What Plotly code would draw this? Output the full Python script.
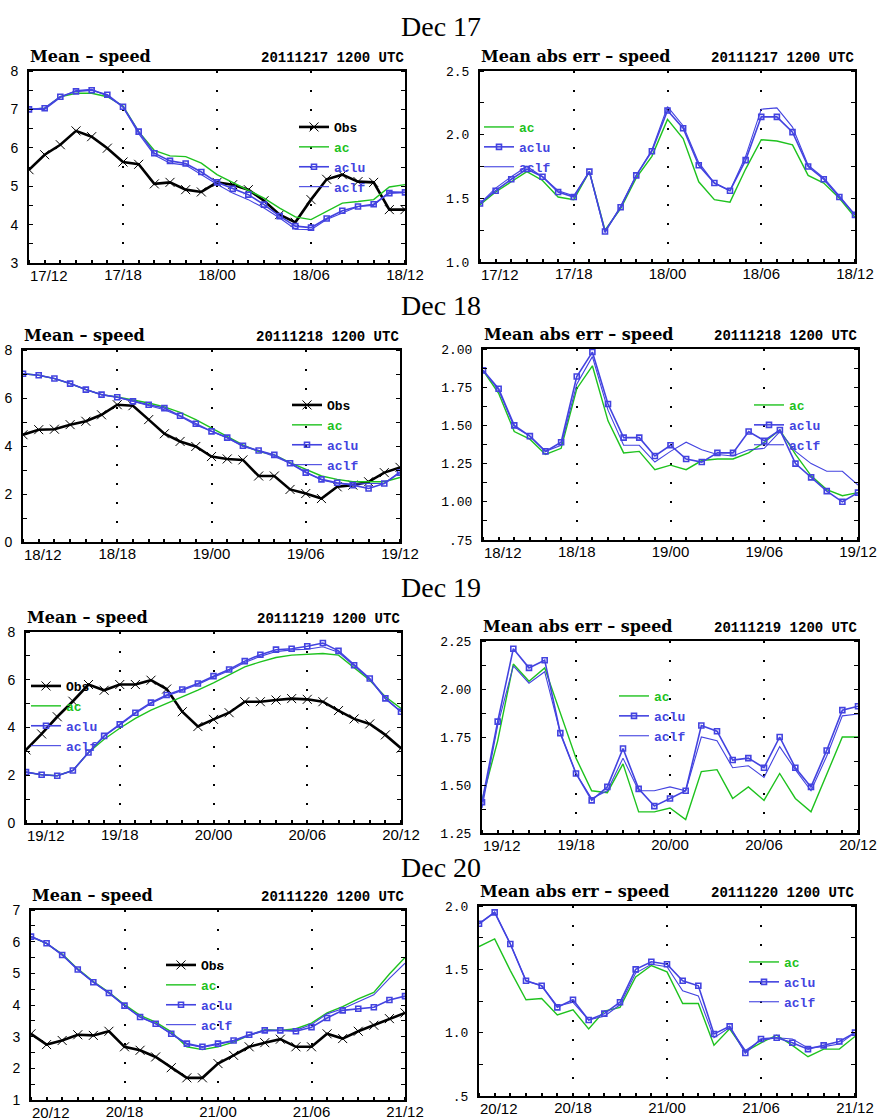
import plotly.graph_objects as go

W, H = 884, 1120

hours = list(range(25))

day_titles = ["Dec 17", "Dec 18", "Dec 19", "Dec 20"]
run_stamps = ["20111217 1200 UTC", "20111218 1200 UTC", "20111219 1200 UTC", "20111220 1200 UTC"]

ticks_17 = ["17/12", "17/18", "18/00", "18/06", "18/12"]
ticks_18 = ["18/12", "18/18", "19/00", "19/06", "19/12"]
ticks_19 = ["19/12", "19/18", "20/00", "20/06", "20/12"]
ticks_20 = ["20/12", "20/18", "21/00", "21/06", "21/12"]

# ---- Dec 17 ----
mean_obs_17 = [5.43, 5.82, 6.08, 6.44, 6.29, 5.99, 5.63, 5.57, 5.06, 5.10, 4.91, 4.85, 5.10,
               5.04, 4.91, 4.62, 4.26, 4.06, 4.65, 5.18, 5.30, 5.12, 5.10, 4.39, 4.39]
mean_ac_17 = [7.00, 7.03, 7.33, 7.42, 7.42, 7.33, 7.09, 6.42, 5.93, 5.79, 5.77, 5.60, 5.30,
              5.10, 4.91, 4.69, 4.43, 4.20, 4.13, 4.34, 4.56, 4.60, 4.65, 4.98, 5.04]
mean_aclu_17 = [7.00, 7.03, 7.33, 7.47, 7.50, 7.38, 7.07, 6.42, 5.86, 5.66, 5.59, 5.37, 5.10,
                4.93, 4.78, 4.52, 4.22, 3.96, 3.92, 4.16, 4.36, 4.47, 4.53, 4.82, 4.84]
mean_aclf_17 = [7.00, 7.00, 7.31, 7.49, 7.52, 7.35, 7.06, 6.37, 5.81, 5.60, 5.55, 5.29, 5.05,
                4.82, 4.65, 4.43, 4.17, 3.88, 3.87, 4.13, 4.30, 4.47, 4.50, 4.86, 4.84]
mae_ac_17 = [1.45, 1.55, 1.63, 1.71, 1.64, 1.51, 1.49, 1.71, 1.25, 1.42, 1.66, 1.83, 2.12,
             1.97, 1.63, 1.49, 1.47, 1.73, 1.96, 1.95, 1.92, 1.68, 1.62, 1.50, 1.35]
mae_aclu_17 = [1.46, 1.56, 1.65, 1.73, 1.67, 1.55, 1.51, 1.71, 1.24, 1.43, 1.68, 1.87, 2.19,
               2.05, 1.76, 1.62, 1.56, 1.80, 2.14, 2.14, 2.02, 1.75, 1.65, 1.51, 1.37]
mae_aclf_17 = [1.46, 1.58, 1.67, 1.75, 1.67, 1.56, 1.52, 1.71, 1.23, 1.44, 1.68, 1.88, 2.22,
               2.07, 1.78, 1.62, 1.56, 1.83, 2.20, 2.21, 2.06, 1.76, 1.66, 1.52, 1.37]

# ---- Dec 18 ----
mean_obs_18 = [4.47, 4.68, 4.70, 4.89, 5.03, 5.30, 5.72, 5.68, 5.10, 4.51, 4.19, 3.98, 3.56,
               3.46, 3.42, 2.75, 2.75, 2.19, 2.02, 1.81, 2.30, 2.37, 2.51, 2.89, 3.11]
mean_ac_18 = [7.01, 6.95, 6.81, 6.60, 6.35, 6.14, 6.04, 5.93, 5.79, 5.63, 5.40, 5.10, 4.75,
              4.42, 4.05, 3.77, 3.63, 3.31, 3.03, 2.75, 2.61, 2.51, 2.51, 2.51, 2.69]
mean_aclu_18 = [7.01, 6.95, 6.81, 6.60, 6.35, 6.14, 6.03, 5.86, 5.72, 5.58, 5.26, 4.93, 4.61,
                4.35, 4.01, 3.81, 3.63, 3.28, 2.89, 2.61, 2.47, 2.37, 2.23, 2.44, 2.89]
mean_aclf_18 = [7.01, 6.95, 6.81, 6.60, 6.35, 6.14, 6.03, 5.85, 5.70, 5.51, 5.24, 4.88, 4.61,
                4.33, 3.98, 3.80, 3.56, 3.28, 2.93, 2.58, 2.44, 2.41, 2.44, 2.44, 2.93]
mae_ac_18 = [1.86, 1.71, 1.46, 1.41, 1.31, 1.35, 1.74, 1.89, 1.53, 1.32, 1.33, 1.21, 1.24,
             1.21, 1.27, 1.28, 1.28, 1.32, 1.39, 1.47, 1.31, 1.17, 1.08, 1.04, 1.06]
mae_aclu_18 = [1.86, 1.74, 1.50, 1.43, 1.33, 1.39, 1.82, 1.98, 1.64, 1.42, 1.42, 1.30, 1.37,
               1.28, 1.26, 1.32, 1.32, 1.46, 1.40, 1.47, 1.25, 1.16, 1.07, 1.00, 1.06]
mae_aclf_18 = [1.86, 1.73, 1.49, 1.43, 1.33, 1.37, 1.77, 1.95, 1.60, 1.37, 1.37, 1.26, 1.33,
               1.39, 1.34, 1.31, 1.30, 1.34, 1.35, 1.46, 1.33, 1.25, 1.20, 1.20, 1.11]

# ---- Dec 19 ----
mean_obs_19 = [3.06, 3.73, 4.45, 5.10, 5.80, 5.56, 5.80, 5.80, 5.98, 5.61, 4.66, 4.04, 4.34,
               4.62, 5.08, 5.08, 5.15, 5.21, 5.18, 5.08, 4.71, 4.36, 4.15, 3.69, 3.13]
mean_ac_19 = [2.13, 2.02, 1.98, 2.20, 2.95, 3.51, 3.97, 4.38, 4.73, 5.01, 5.26, 5.57, 5.87,
              6.19, 6.54, 6.75, 6.93, 7.03, 7.07, 7.10, 7.03, 6.51, 5.98, 5.29, 4.80]
mean_aclu_19 = [2.13, 2.02, 1.98, 2.20, 2.95, 3.65, 4.13, 4.62, 5.04, 5.36, 5.59, 5.84, 6.15,
                6.43, 6.78, 7.05, 7.26, 7.30, 7.40, 7.54, 7.21, 6.61, 6.05, 5.22, 4.66]
mean_aclf_19 = [2.13, 2.02, 1.98, 2.20, 2.95, 3.63, 4.10, 4.58, 5.00, 5.32, 5.55, 5.80, 6.10,
                6.38, 6.72, 6.98, 7.18, 7.25, 7.28, 7.38, 7.15, 6.58, 6.02, 5.20, 4.66]
mae_ac_19 = [1.42, 1.73, 2.13, 2.04, 2.11, 1.87, 1.64, 1.47, 1.46, 1.61, 1.36, 1.36, 1.38,
             1.32, 1.57, 1.58, 1.43, 1.49, 1.42, 1.56, 1.43, 1.36, 1.56, 1.75, 1.75]
mae_aclu_19 = [1.41, 1.83, 2.21, 2.11, 2.15, 1.77, 1.56, 1.42, 1.49, 1.69, 1.48, 1.39, 1.43,
               1.47, 1.81, 1.78, 1.63, 1.64, 1.59, 1.75, 1.59, 1.49, 1.68, 1.89, 1.91]
mae_aclf_19 = [1.38, 1.81, 2.12, 2.03, 2.09, 1.77, 1.56, 1.43, 1.47, 1.64, 1.47, 1.47, 1.49,
               1.47, 1.75, 1.73, 1.59, 1.60, 1.54, 1.70, 1.58, 1.47, 1.65, 1.86, 1.87]

# ---- Dec 20 ----
mean_obs_20 = [3.09, 2.75, 2.88, 3.06, 3.04, 3.17, 2.68, 2.57, 2.36, 2.02, 1.70, 1.70, 2.15,
               2.41, 2.68, 2.81, 2.92, 2.68, 2.68, 3.09, 2.94, 3.17, 3.36, 3.57, 3.75]
mean_ac_20 = [6.16, 5.94, 5.61, 5.14, 4.74, 4.40, 4.01, 3.67, 3.46, 3.15, 2.68, 2.59, 2.68,
              2.83, 3.04, 3.22, 3.20, 3.25, 3.43, 3.75, 3.95, 4.19, 4.40, 4.98, 5.50]
mean_aclu_20 = [6.16, 5.95, 5.58, 5.12, 4.72, 4.38, 3.98, 3.62, 3.41, 3.09, 2.78, 2.68, 2.78,
                2.88, 3.06, 3.20, 3.20, 3.17, 3.30, 3.59, 3.83, 3.88, 3.93, 4.16, 4.28]
mean_aclf_20 = [6.16, 5.95, 5.58, 5.12, 4.72, 4.38, 3.98, 3.62, 3.41, 3.09, 2.76, 2.66, 2.76,
                2.86, 3.04, 3.18, 3.20, 3.20, 3.38, 3.72, 3.88, 4.09, 4.32, 4.84, 5.32]
mae_ac_20 = [1.68, 1.74, 1.49, 1.26, 1.27, 1.14, 1.18, 1.03, 1.17, 1.20, 1.44, 1.53, 1.48,
             1.23, 1.23, 0.90, 1.03, 0.85, 0.92, 0.98, 0.90, 0.81, 0.87, 0.87, 0.97]
mae_aclu_20 = [1.86, 1.95, 1.70, 1.41, 1.37, 1.20, 1.26, 1.10, 1.15, 1.24, 1.50, 1.56, 1.54,
               1.41, 1.37, 0.99, 1.05, 0.84, 0.95, 0.96, 0.92, 0.87, 0.90, 0.93, 1.00]
mae_aclf_20 = [1.86, 1.95, 1.70, 1.41, 1.37, 1.21, 1.24, 1.10, 1.13, 1.22, 1.47, 1.54, 1.52,
               1.33, 1.29, 0.96, 1.04, 0.86, 0.94, 0.96, 0.95, 0.88, 0.89, 0.91, 1.00]

# y-axis tick values / labels of each panel
mean_ticks_a = [3, 4, 5, 6, 7, 8]
mean_ticks_b = [0, 2, 4, 6, 8]
mean_ticks_c = [1, 2, 3, 4, 5, 6, 7]
mae_ticks_17 = [1.0, 1.5, 2.0, 2.5]
mae_labels_17 = ["1.0", "1.5", "2.0", "2.5"]
mae_ticks_18 = [0.75, 1.0, 1.25, 1.5, 1.75, 2.0]
mae_labels_18 = [".75", "1.00", "1.25", "1.50", "1.75", "2.00"]
mae_ticks_19 = [1.25, 1.5, 1.75, 2.0, 2.25]
mae_labels_19 = ["1.25", "1.50", "1.75", "2.00", "2.25"]
mae_ticks_20 = [0.5, 1.0, 1.5, 2.0]
mae_labels_20 = [".5", "1.0", "1.5", "2.0"]

# ---------------------------------------------------------------- styling
BLACK = "#000000"
GREEN = "#1ec21e"
BLUE = "#4343e0"

MONO = "Liberation Mono"
SANS = "Liberation Sans"
SERIF = "Liberation Serif"
XTICK_FONT = dict(family=SANS, size=15, color=BLACK)
X_TICKVALS = [0, 6, 12, 18, 24]


def px_x(v):
    return v / W


def px_y(v):
    return 1 - v / H


# panel frames in pixels: (left, top, right, bottom)
panels = [
    dict(box=(29, 71, 405, 263), kind="mean", ticks=ticks_17, yr=[3, 8], yt=mean_ticks_a,
         yl=[str(v) for v in mean_ticks_a], minor=0.5, leg=(294, 112), day=0),
    dict(box=(480, 71, 855, 262), kind="mae", ticks=ticks_17, yr=[1.0, 2.5], yt=mae_ticks_17,
         yl=mae_labels_17, minor=0.25, leg=(479, 112), day=0),
    dict(box=(23, 350, 400, 542), kind="mean", ticks=ticks_18, yr=[0, 8], yt=mean_ticks_b,
         yl=[str(v) for v in mean_ticks_b], minor=1, leg=(287, 390), day=1),
    dict(box=(483, 349, 858, 540), kind="mae", ticks=ticks_18, yr=[0.75, 2.0], yt=mae_ticks_18,
         yl=mae_labels_18, minor=0.125, leg=(749, 390), day=1),
    dict(box=(26, 632, 401, 823), kind="mean", ticks=ticks_19, yr=[0, 8], yt=mean_ticks_b,
         yl=[str(v) for v in mean_ticks_b], minor=1, leg=(26, 671), day=2),
    dict(box=(482, 641, 858, 833), kind="mae", ticks=ticks_19, yr=[1.25, 2.25], yt=mae_ticks_19,
         yl=mae_labels_19, minor=0.125, leg=(614, 681), day=2),
    dict(box=(31, 910, 405, 1100), kind="mean", ticks=ticks_20, yr=[1, 7], yt=mean_ticks_c,
         yl=[str(v) for v in mean_ticks_c], minor=0.5, leg=(161, 950), day=3),
    dict(box=(479, 906, 855, 1096), kind="mae", ticks=ticks_20, yr=[0.5, 2.0], yt=mae_ticks_20,
         yl=mae_labels_20, minor=0.25, leg=(744, 947), day=3),
]

series = [
    (mean_obs_17, mean_ac_17, mean_aclu_17, mean_aclf_17),
    (None, mae_ac_17, mae_aclu_17, mae_aclf_17),
    (mean_obs_18, mean_ac_18, mean_aclu_18, mean_aclf_18),
    (None, mae_ac_18, mae_aclu_18, mae_aclf_18),
    (mean_obs_19, mean_ac_19, mean_aclu_19, mean_aclf_19),
    (None, mae_ac_19, mae_aclu_19, mae_aclf_19),
    (mean_obs_20, mean_ac_20, mean_aclu_20, mean_aclf_20),
    (None, mae_ac_20, mae_aclu_20, mae_aclf_20),
]


def label(text, color):
    return f'<b><span style="color:{color}">{text}</span></b>'


fig = go.Figure()
layout = dict(
    width=W, height=H,
    margin=dict(l=0, r=0, t=0, b=0, autoexpand=False),
    paper_bgcolor="white", plot_bgcolor="white",
    showlegend=True,
    annotations=[],
)

for i, (p, (obs, ac, aclu, aclf)) in enumerate(zip(panels, series)):
    n = i + 1
    xname = "x" if n == 1 else f"x{n}"
    yname = "y" if n == 1 else f"y{n}"
    xkey = "xaxis" if n == 1 else f"xaxis{n}"
    ykey = "yaxis" if n == 1 else f"yaxis{n}"
    lkey = "legend" if n == 1 else f"legend{n}"
    left, top, right, bottom = p["box"]

    # the first time label is set flush with the frame corner (drawn below as an
    # annotation), so the axis itself labels only the remaining ticks
    layout[xkey] = dict(
        domain=[px_x(left), px_x(right)], anchor=yname, range=[0, 24],
        tickmode="array", tickvals=X_TICKVALS, ticktext=[""] + p["ticks"][1:],
        ticks="", showline=True, linecolor=BLACK, linewidth=2, mirror=True,
        showgrid=True, gridcolor=BLACK, gridwidth=2, griddash="2px,17px",
        zeroline=False, fixedrange=True, automargin=False,
        tickfont=XTICK_FONT, ticklabelstandoff=-3,
        minor=dict(ticks="inside", tick0=0, dtick=1, ticklen=3, tickwidth=2,
                   tickcolor=BLACK, showgrid=False),
    )
    layout["annotations"].append(dict(
        text=p["ticks"][0], xref=xname, yref="paper",
        x=X_TICKVALS[0], y=px_y(bottom + 3), xanchor="left", yanchor="top",
        showarrow=False, font=XTICK_FONT, borderpad=0,
    ))

    if p["kind"] == "mean":
        yfont = dict(family=SANS, size=14, color=BLACK)
    else:
        yfont = dict(family=MONO, size=13, color=BLACK)
    layout[ykey] = dict(
        domain=[px_y(bottom), px_y(top)], anchor=xname, range=p["yr"],
        tickmode="array", tickvals=p["yt"], ticktext=p["yl"],
        ticks="", showline=True, linecolor=BLACK, linewidth=2, mirror="ticks",
        showgrid=False, zeroline=False, fixedrange=True, automargin=False,
        tickfont=yfont, ticklabelstandoff=6,
        minor=dict(ticks="inside", tick0=p["yr"][0], dtick=p["minor"], ticklen=4,
                   tickwidth=1, tickcolor=BLACK, showgrid=False),
    )
    lx, ly = p["leg"]
    layout[lkey] = dict(
        x=px_x(lx), y=px_y(ly), xanchor="left", yanchor="top",
        bgcolor="rgba(0,0,0,0)", borderwidth=0, itemwidth=30, tracegroupgap=0,
        font=dict(family=MONO, size=13, color=BLACK),
    )

    if obs is not None:
        fig.add_trace(go.Scatter(
            x=hours, y=obs, mode="lines+markers", name=label("Obs", BLACK),
            line=dict(color=BLACK, width=2.6),
            marker=dict(symbol="x-thin", size=9, line=dict(color=BLACK, width=1)),
            xaxis=xname, yaxis=yname, legend=lkey,
        ))
    fig.add_trace(go.Scatter(
        x=hours, y=ac, mode="lines", name=label("ac", GREEN),
        line=dict(color=GREEN, width=1.4),
        xaxis=xname, yaxis=yname, legend=lkey,
    ))
    fig.add_trace(go.Scatter(
        x=hours, y=aclu, mode="lines+markers", name=label("aclu", BLUE),
        line=dict(color=BLUE, width=1.6),
        marker=dict(symbol="square-open", size=5, color=BLUE, line=dict(color=BLUE, width=1.6)),
        xaxis=xname, yaxis=yname, legend=lkey,
    ))
    fig.add_trace(go.Scatter(
        x=hours, y=aclf, mode="lines", name=label("aclf", BLUE),
        line=dict(color=BLUE, width=1.1),
        xaxis=xname, yaxis=yname, legend=lkey,
    ))

    title = "Mean – speed" if p["kind"] == "mean" else "Mean abs err – speed"
    layout["annotations"].append(dict(
        text=f"<b>{title}</b>", xref="paper", yref="paper",
        x=px_x(left - 1), y=px_y(top - 3), xanchor="left", yanchor="bottom",
        showarrow=False, font=dict(family="DejaVu Serif", size=16, color=BLACK),
    ))
    layout["annotations"].append(dict(
        text=f"<b>{run_stamps[p['day']]}</b>", xref="paper", yref="paper",
        x=px_x(right + 1), y=px_y(top - 3), xanchor="right", yanchor="bottom",
        showarrow=False, font=dict(family=MONO, size=14, color=BLACK),
    ))

# row headings
for k, yc in enumerate([26, 306, 587, 867]):
    layout["annotations"].append(dict(
        text=day_titles[k], xref="paper", yref="paper",
        x=px_x(441), y=px_y(yc), xanchor="center", yanchor="middle",
        showarrow=False, font=dict(family=SERIF, size=28, color=BLACK),
    ))

fig.update_layout(**layout)
fig.write_html("out.html")
